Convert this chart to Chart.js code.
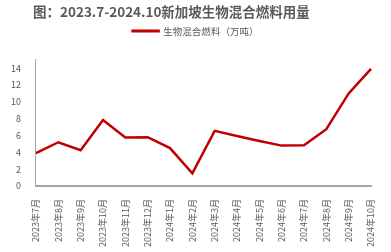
<!DOCTYPE html>
<html>
<head>
<meta charset="utf-8">
<script src="https://cdn.jsdelivr.net/npm/chart.js@4/dist/chart.umd.min.js"></script>
<style>
html,body{margin:0;padding:0;background:#fff;}
#wrap{width:391px;height:252px;position:relative;}
</style>
</head>
<body>
<div id="wrap"><canvas id="c" width="391" height="252"></canvas></div>
<script>
const categories = ["2023年7月","2023年8月","2023年9月","2023年10月","2023年11月","2023年12月","2024年1月","2024年2月","2024年3月","2024年4月","2024年5月","2024年6月","2024年7月","2024年8月","2024年9月","2024年10月"];
const seriesName = "生物混合燃料（万吨）";
const values = [3.9, 5.2, 4.25, 7.85, 5.75, 5.8, 4.5, 1.5, 6.55, 5.95, 5.35, 4.8, 4.85, 6.75, 11.0, 13.9];
const titleText = "图：2023.7-2024.10新加坡生物混合燃料用量";
const yTicks = [0, 2, 4, 6, 8, 10, 12, 14];

const FONT = "'Noto Sans CJK SC', 'Noto Sans', sans-serif";
function shiftDraw(box, dx) {
  const orig = box.draw;
  box.draw = function () {
    this.ctx.save();
    this.ctx.translate(dx, 0);
    orig.apply(this, arguments);
    this.ctx.restore();
  };
}
const boxTweaks = {
  id: 'boxTweaks',
  beforeInit(chart) {
    const origFit = chart.legend.fit;
    chart.legend.fit = function () { origFit.call(this); this.height += 14; };
    shiftDraw(chart.legend, 8);
    shiftDraw(chart.titleBlock, -3);
  }
};
new Chart(document.getElementById('c'), {
  type: 'line',
  data: {
    labels: categories,
    datasets: [{
      label: seriesName,
      data: values,
      borderColor: '#C00000',
      backgroundColor: '#C00000',
      borderWidth: 2.5,
      pointRadius: 0,
      tension: 0,
      fill: false
    }]
  },
  plugins: [boxTweaks],
  options: {
    responsive: false,
    animation: false,
    layout: { padding: { left: 4, right: 20, top: 2, bottom: 0 } },
    plugins: {
      title: {
        display: true,
        text: titleText,
        align: 'start',
        fullSize: false,
        color: '#595959',
        font: { family: FONT, size: 13.5, weight: 'bold' },
        padding: { top: 2, bottom: 0 }
      },
      legend: {
        display: true,
        labels: {
          boxWidth: 26,
          boxHeight: 0.5,
          color: '#595959',
          font: { family: FONT, size: 9.5 },
          padding: 6
        }
      },
      tooltip: { enabled: false }
    },
    scales: {
      x: {
        offset: false,
        grid: { display: false },
        border: { display: true, color: '#a6a6a6', width: 2 },
        ticks: {
          color: '#595959',
          font: { family: FONT, size: 9 },
          maxRotation: 90,
          minRotation: 90,
          autoSkip: false,
          padding: 5
        }
      },
      y: {
        min: 0,
        max: 15,
        grid: { display: false },
        border: { display: true, color: '#a6a6a6', width: 1 },
        afterBuildTicks: (scale) => { scale.ticks = yTicks.map(v => ({ value: v })); },
        ticks: {
          color: '#595959',
          font: { family: FONT, size: 9 },
          padding: 7
        }
      }
    }
  }
});
</script>
</body>
</html>
